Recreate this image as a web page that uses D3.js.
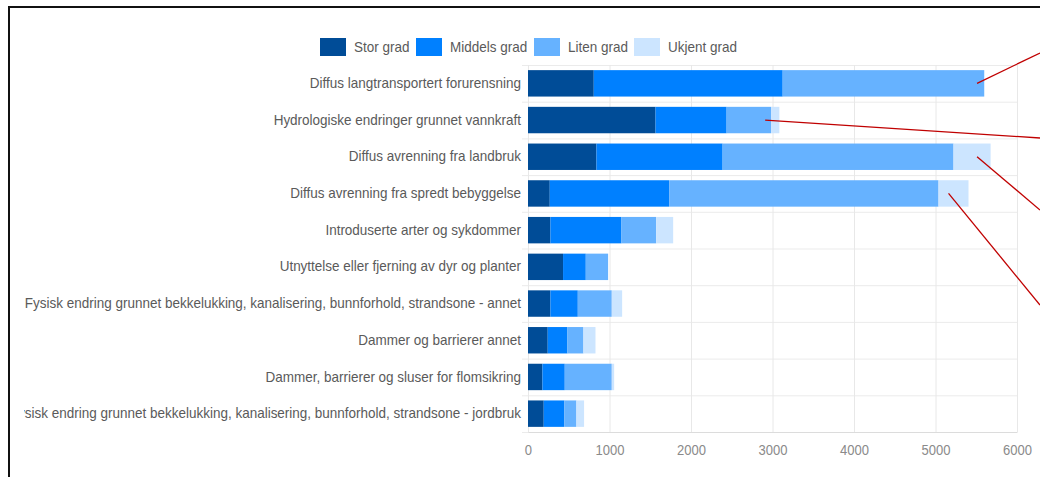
<!DOCTYPE html>
<html>
<head>
<meta charset="utf-8">
<script src="https://cdn.jsdelivr.net/npm/d3@7"></script>
<style>
    html, body { margin: 0; padding: 0; background: #fff; }
    svg { display: block; font-family: "Liberation Sans", Arial, sans-serif; }
</style>
</head>
<body>
<svg id="chart" width="1040" height="477"></svg>
<script>
// Data
const categories = [
    'Diffus langtransportert forurensning',
    'Hydrologiske endringer grunnet vannkraft',
    'Diffus avrenning fra landbruk',
    'Diffus avrenning fra spredt bebyggelse',
    'Introduserte arter og sykdommer',
    'Utnyttelse eller fjerning av dyr og planter',
    'Fysisk endring grunnet bekkelukking, kanalisering, bunnforhold, strandsone - annet',
    'Dammer og barrierer annet',
    'Dammer, barrierer og sluser for flomsikring',
    'Fysisk endring grunnet bekkelukking, kanalisering, bunnforhold, strandsone - jordbruk'
];
const seriesNames = ['Stor grad', 'Middels grad', 'Liten grad', 'Ukjent grad'];
const storGrad    = [807, 1565, 840, 267, 275, 430, 275, 242, 177, 193];
const middelsGrad = [2318, 872, 1548, 1465, 872, 279, 336, 242, 274, 254];
const litenGrad   = [2473, 548, 2833, 3305, 426, 274, 417, 196, 577, 147];
const ukjentGrad  = [0, 99, 455, 368, 208, 0, 127, 148, 29, 94];
const xTicks = [0, 1000, 2000, 3000, 4000, 5000, 6000];

// Red callout lines (start on a bar, run off the right edge)
const callouts = [
    { row: 0, value: 5510, end: [1040, 53] },
    { row: 1, value: 2910, end: [1040, 138] },
    { row: 2, value: 5510, end: [1040, 210] },
    { row: 3, value: 5160, end: [1040, 305] }
];

const colors = ['#004c97', '#0080ff', '#66b2ff', '#cce5ff'];
const NARROW = 0.93; // the original uses a condensed face

// squeeze text horizontally to mimic the narrow font
function narrow(sel) {
    sel.each(function() {
        const w = this.getComputedTextLength();
        d3.select(this)
            .attr('textLength', w * NARROW)
            .attr('lengthAdjust', 'spacingAndGlyphs');
    });
}

const svg = d3.select('#chart');
const margin = { top: 65, right: 23, bottom: 45, left: 528 };
const width = 1040 - margin.left - margin.right;
const height = 477 - margin.top - margin.bottom;

// Frame
svg.append('rect')
    .attr('x', 9).attr('y', 7)
    .attr('width', 1200).attr('height', 600)
    .attr('fill', 'none')
    .attr('stroke', '#111')
    .attr('stroke-width', 2);

const rows = categories.map((c, i) => ({
    category: c,
    'Stor grad': storGrad[i],
    'Middels grad': middelsGrad[i],
    'Liten grad': litenGrad[i],
    'Ukjent grad': ukjentGrad[i]
}));
const stacked = d3.stack().keys(seriesNames)(rows);

const x = d3.scaleLinear().domain([0, 6000]).range([0, width]);
const y = d3.scaleBand().domain(categories).range([0, height]).paddingInner(0.28).paddingOuter(0.14);

const g = svg.append('g').attr('transform', `translate(${margin.left},${margin.top})`);

// Grid
const step = y.step();
g.append('g').selectAll('line')
    .data(d3.range(categories.length + 1))
    .join('line')
    .attr('x1', -6).attr('x2', width)
    .attr('y1', d => d * step + 0.5).attr('y2', d => d * step + 0.5)
    .attr('stroke', '#ebebeb');

g.append('g').selectAll('line')
    .data(xTicks)
    .join('line')
    .attr('x1', d => x(d) + 0.5).attr('x2', d => x(d) + 0.5)
    .attr('y1', 0).attr('y2', height)
    .attr('stroke', '#e8e8e8');

// Bars
g.append('g').selectAll('g')
    .data(stacked)
    .join('g')
    .attr('fill', (d, i) => colors[i])
    .selectAll('rect')
    .data(d => d)
    .join('rect')
    .attr('x', d => x(d[0]))
    .attr('y', d => y(d.data.category))
    .attr('width', d => Math.max(0, x(d[1]) - x(d[0])))
    .attr('height', y.bandwidth());

// X axis
const xAxis = g.append('g')
    .attr('transform', `translate(0,${height})`)
    .call(d3.axisBottom(x).tickValues(xTicks).tickSize(0).tickPadding(13).tickFormat(d3.format('d')));
xAxis.select('.domain').attr('stroke', '#dcdcdc');
xAxis.selectAll('text')
    .attr('fill', '#8a8a8a')
    .style('font-size', '14px')
    .style('font-family', 'inherit')
    .call(narrow);

// Y labels (clipped on the left like the original)
svg.append('clipPath').attr('id', 'labelClip')
    .append('rect').attr('x', 24).attr('y', 0).attr('width', 520).attr('height', 477);

const yAxis = svg.append('g')
    .attr('clip-path', 'url(#labelClip)')
    .append('g')
    .attr('transform', `translate(${margin.left},${margin.top})`)
    .call(d3.axisLeft(y).tickSize(0).tickPadding(7));
yAxis.select('.domain').remove();
yAxis.selectAll('text')
    .attr('fill', '#5a5a5a')
    .style('font-size', '14.5px')
    .style('font-family', 'inherit')
    .call(narrow);

// Legend
const legendX = [320, 416, 534, 634];
const legend = svg.append('g').attr('transform', 'translate(0,38)');
const li = legend.selectAll('g')
    .data(seriesNames)
    .join('g')
    .attr('transform', (d, i) => `translate(${legendX[i]},0)`);
li.append('rect')
    .attr('width', 26).attr('height', 18)
    .attr('fill', (d, i) => colors[i]);
li.append('text')
    .attr('x', 34).attr('y', 9)
    .attr('dy', '0.35em')
    .attr('fill', '#5a5a5a')
    .style('font-size', '14.5px')
    .text(d => d)
    .call(narrow);

// Callout lines
svg.append('g').selectAll('line')
    .data(callouts)
    .join('line')
    .attr('x1', d => margin.left + x(d.value))
    .attr('y1', d => margin.top + y(categories[d.row]) + y.bandwidth() / 2)
    .attr('x2', d => d.end[0])
    .attr('y2', d => d.end[1])
    .attr('stroke', '#c00000')
    .attr('stroke-width', 1.3);
</script>
</body>
</html>
